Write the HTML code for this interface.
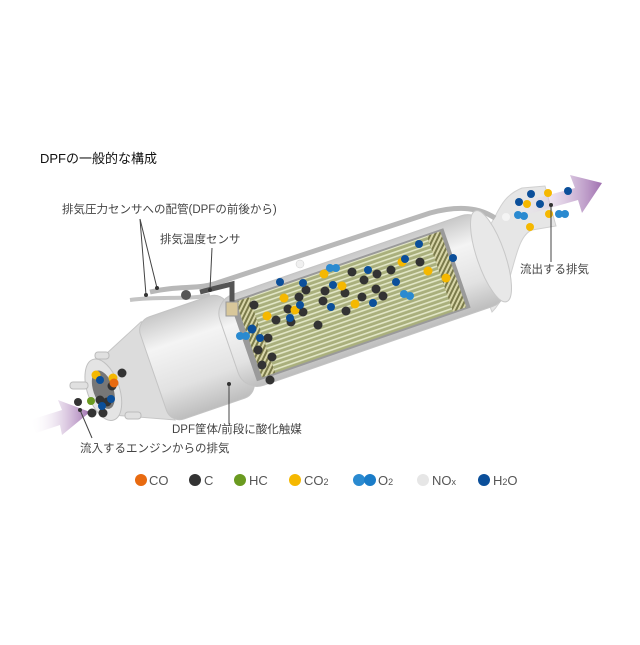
<!DOCTYPE html>
<html><head><meta charset="utf-8"><style>
body{margin:0;background:#fff;width:640px;height:640px;overflow:hidden}
text{font-family:"Liberation Sans","Noto Sans CJK JP",sans-serif}
</style></head><body>
<svg width="640" height="640" viewBox="0 0 640 640" xmlns="http://www.w3.org/2000/svg">
<defs>
<linearGradient id="arrL" x1="0" y1="0" x2="1" y2="0"><stop offset="0" stop-color="#fff" stop-opacity="0"/><stop offset="1" stop-color="#a070b0"/></linearGradient>
<linearGradient id="arrR" x1="0" y1="0" x2="1" y2="0"><stop offset="0" stop-color="#fff" stop-opacity="0"/><stop offset="1" stop-color="#a070b0"/></linearGradient>
<linearGradient id="tube" x1="0" y1="0" x2="0" y2="1"><stop offset="0" stop-color="#c8c8c8"/><stop offset=".3" stop-color="#f4f4f4"/><stop offset=".7" stop-color="#e2e2e2"/><stop offset="1" stop-color="#bdbdbd"/></linearGradient>
<pattern id="str" width="6" height="4.5" patternUnits="userSpaceOnUse"><rect width="6" height="4.5" fill="#a9af7c"/><rect width="6" height="1.6" fill="#e2e6c6"/></pattern>
<pattern id="hat" width="4" height="4" patternUnits="userSpaceOnUse" patternTransform="rotate(45)"><rect width="4" height="4" fill="#7a7a4a"/><rect width="2" height="4" fill="#d8d6a8"/></pattern>
</defs>
<text x="40" y="163" font-size="13" fill="#111">DPFの一般的な構成</text>

<!-- outlet pipe -->
<path d="M468,248 C500,228 492,200 522,188 L545,186 L556,226 L532,230 C512,238 515,290 492,312 Z" fill="#e6e6e6" stroke="#d0d0d0"/>
<!-- sensor pipe along top -->
<path d="M150,292 C180,285 200,290 220,282 L430,213 C460,205 480,208 495,218" fill="none" stroke="#b8b8b8" stroke-width="5"/>
<path d="M130,300 C160,296 190,300 210,295" fill="none" stroke="#c4c4c4" stroke-width="4"/>

<g transform="translate(300,322) rotate(-19)">
  <path d="M-205,-28 L-150,-52 L-150,52 L-205,28 Z" fill="#dcdcdc" stroke="#c6c6c6"/>
  <rect x="-155" y="-54" width="92" height="108" rx="14" fill="url(#tube)" stroke="#c4c4c4"/>
  <rect x="-75" y="-48" width="282" height="96" rx="20" fill="url(#tube)" stroke="#c4c4c4"/>
  <ellipse cx="202" cy="0" rx="14" ry="48" fill="#e8e8e8" stroke="#c8c8c8"/>
  <rect x="-60" y="-42" width="226" height="84" fill="#9a9a9a"/>
  <rect x="-54" y="-40" width="216" height="80" fill="url(#str)"/>
  <rect x="-54" y="-40" width="14" height="80" fill="url(#hat)"/>
  <rect x="148" y="-40" width="14" height="80" fill="url(#hat)"/>
  <ellipse cx="-208" cy="0" rx="16" ry="32" fill="#e4e4e4" stroke="#c0c0c0"/>
  <ellipse cx="-208" cy="0" rx="10" ry="20" fill="#777"/>
</g>
<rect x="70" y="382" width="18" height="7" rx="3" fill="#e0e0e0" stroke="#bbb"/>
<rect x="95" y="352" width="14" height="7" rx="3" fill="#e0e0e0" stroke="#bbb"/>
<rect x="125" y="412" width="16" height="7" rx="3" fill="#e0e0e0" stroke="#bbb"/>
<path d="M200,292 L232,284 L232,305" fill="none" stroke="#555" stroke-width="5"/>
<rect x="226" y="302" width="12" height="14" fill="#d8c79a" stroke="#999"/>
<circle cx="186" cy="295" r="5" fill="#555"/>

<polygon points="30,420 62,410 58,400 90,412 62,435 60,425 36,433" fill="url(#arrL)"/>
<polygon points="510,205 575,188 570,175 602,183 582,213 578,200 515,218" fill="url(#arrR)"/>

<g stroke="none">
<g fill="#333"><circle cx="254" cy="305" r="4.5"/><circle cx="268" cy="338" r="4.5"/><circle cx="276" cy="320" r="4.5"/><circle cx="258" cy="350" r="4.5"/><circle cx="262" cy="365" r="4.5"/><circle cx="291" cy="322" r="4.5"/><circle cx="303" cy="312" r="4.5"/><circle cx="288" cy="309" r="4.5"/><circle cx="299" cy="297" r="4.5"/><circle cx="323" cy="301" r="4.5"/><circle cx="318" cy="325" r="4.5"/><circle cx="325" cy="291" r="4.5"/><circle cx="345" cy="293" r="4.5"/><circle cx="352" cy="272" r="4.5"/><circle cx="364" cy="280" r="4.5"/><circle cx="362" cy="297" r="4.5"/><circle cx="376" cy="289" r="4.5"/><circle cx="346" cy="311" r="4.5"/><circle cx="391" cy="270" r="4.5"/><circle cx="377" cy="274" r="4.5"/><circle cx="306" cy="290" r="4.5"/><circle cx="270" cy="380" r="4.5"/><circle cx="272" cy="357" r="4.5"/><circle cx="100" cy="400" r="4.5"/><circle cx="92" cy="413" r="4.5"/><circle cx="112" cy="386" r="4.5"/><circle cx="107" cy="402" r="4.5"/><circle cx="122" cy="373" r="4.5"/><circle cx="103" cy="413" r="4.5"/><circle cx="383" cy="296" r="4.5"/><circle cx="420" cy="262" r="4.5"/></g>
<g fill="#f5b800"><circle cx="267" cy="316" r="4.5"/><circle cx="284" cy="298" r="4.5"/><circle cx="295" cy="310" r="4.5"/><circle cx="324" cy="274" r="4.5"/><circle cx="342" cy="286" r="4.5"/><circle cx="355" cy="304" r="4.5"/><circle cx="402" cy="262" r="4.5"/><circle cx="428" cy="271" r="4.5"/><circle cx="446" cy="278" r="4.5"/><circle cx="96" cy="375" r="4.5"/><circle cx="113" cy="378" r="4.5"/><circle cx="527" cy="204" r="4"/><circle cx="548" cy="193" r="4"/><circle cx="549" cy="214" r="4"/><circle cx="530" cy="227" r="4"/></g>
<g fill="#0b4f9a"><circle cx="252" cy="329" r="4.5"/><circle cx="260" cy="338" r="4"/><circle cx="280" cy="282" r="4"/><circle cx="290" cy="318" r="4"/><circle cx="300" cy="305" r="4"/><circle cx="331" cy="307" r="4"/><circle cx="333" cy="285" r="4"/><circle cx="368" cy="270" r="4"/><circle cx="396" cy="282" r="4"/><circle cx="373" cy="303" r="4"/><circle cx="405" cy="259" r="4"/><circle cx="419" cy="244" r="4"/><circle cx="303" cy="283" r="4"/><circle cx="100" cy="380" r="4"/><circle cx="111" cy="399" r="4"/><circle cx="102" cy="406" r="4"/><circle cx="519" cy="202" r="4"/><circle cx="531" cy="194" r="4"/><circle cx="540" cy="204" r="4"/><circle cx="568" cy="191" r="4"/><circle cx="453" cy="258" r="4"/></g>
<g fill="#2a8ad0"><circle cx="240" cy="336" r="4"/><circle cx="246" cy="336" r="4"/><circle cx="330" cy="268" r="4"/><circle cx="336" cy="268" r="4"/><circle cx="404" cy="294" r="4"/><circle cx="410" cy="296" r="4"/><circle cx="518" cy="215" r="4"/><circle cx="524" cy="216" r="4"/><circle cx="559" cy="214" r="4"/><circle cx="565" cy="214" r="4"/></g>
<circle cx="114" cy="383" r="4.5" fill="#e86a10"/><circle cx="91" cy="401" r="4" fill="#6a9a20"/>
<circle cx="78" cy="402" r="4" fill="#333"/><circle cx="300" cy="264" r="4" fill="#f0f0f0" stroke="#ccc" stroke-width=".5"/><circle cx="506" cy="217" r="4" fill="#f4f4f4"/>
</g>

<g stroke="#444" stroke-width="1" fill="none">
<line x1="140" y1="219" x2="146" y2="295"/><line x1="140" y1="219" x2="157" y2="288"/>
<line x1="212" y1="248" x2="210" y2="290"/>
<line x1="551" y1="205" x2="551" y2="262"/>
<line x1="229" y1="384" x2="229" y2="424"/>
<line x1="80" y1="410" x2="92" y2="438"/>
</g>
<g fill="#333"><circle cx="146" cy="295" r="2"/><circle cx="157" cy="288" r="2"/><circle cx="210" cy="290" r="2"/><circle cx="551" cy="205" r="2"/><circle cx="229" cy="384" r="2"/><circle cx="80" cy="410" r="2"/></g>

<g font-size="11.5" fill="#444">
<text x="62" y="213">排気圧力センサへの配管(DPFの前後から)</text>
<text x="160" y="243">排気温度センサ</text>
<text x="520" y="273">流出する排気</text>
<text x="172" y="433">DPF筐体/前段に酸化触媒</text>
<text x="80" y="452">流入するエンジンからの排気</text>
</g>

<g font-size="13" fill="#555">
<circle cx="141" cy="480" r="6" fill="#e86a10"/><text x="149" y="485">CO</text>
<circle cx="195" cy="480" r="6" fill="#333"/><text x="204" y="485">C</text>
<circle cx="240" cy="480" r="6" fill="#6a9a20"/><text x="249" y="485">HC</text>
<circle cx="295" cy="480" r="6" fill="#f5b800"/><text x="304" y="485">CO<tspan font-size="9">2</tspan></text>
<circle cx="359" cy="480" r="6" fill="#2a8ad0"/><circle cx="370" cy="480" r="6" fill="#1a7cc8"/><text x="378" y="485">O<tspan font-size="9">2</tspan></text>
<circle cx="423" cy="480" r="6" fill="#e6e6e6"/><text x="432" y="485">NO<tspan font-size="9">x</tspan></text>
<circle cx="484" cy="480" r="6" fill="#0b4f9a"/><text x="493" y="485">H<tspan font-size="9">2</tspan>O</text>
</g>
</svg>
</body></html>
